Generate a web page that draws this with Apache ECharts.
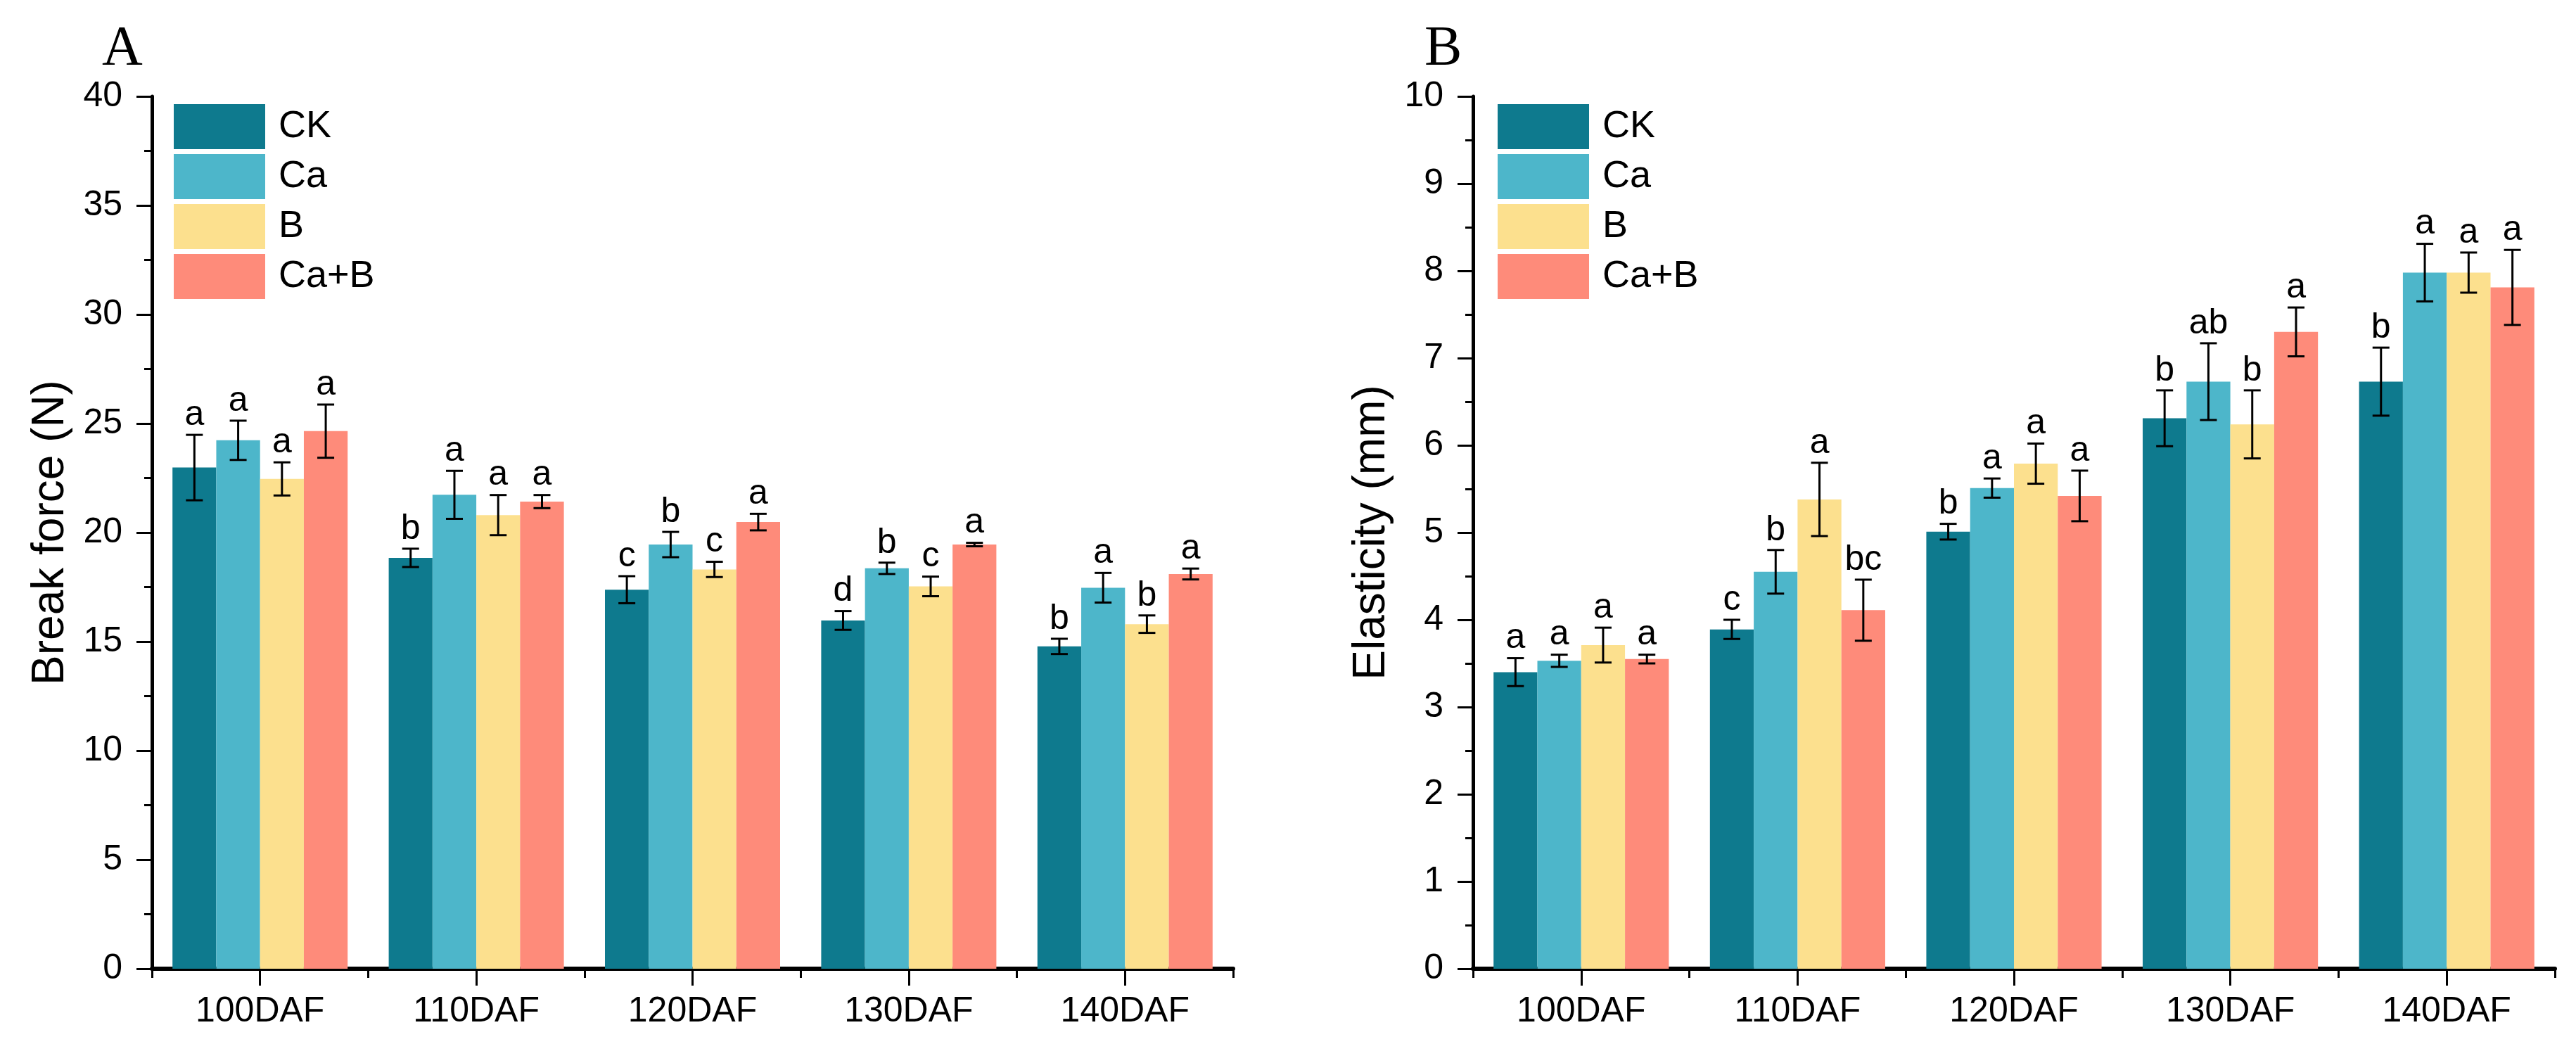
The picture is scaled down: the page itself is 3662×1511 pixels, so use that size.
<!DOCTYPE html>
<html>
<head>
<meta charset="utf-8">
<script src="https://cdn.jsdelivr.net/npm/echarts@6/dist/echarts.min.js"></script>
<style>
html,body{margin:0;padding:0;background:#fff;}
#chart{width:3662px;height:1511px;}
</style>
</head>
<body>
<div id="chart"></div>
<script>
// ---------- data ----------
const categories = ['100DAF', '110DAF', '120DAF', '130DAF', '140DAF'];
const seriesNames = ['CK', 'Ca', 'B', 'Ca+B'];

// Panel A: Break force (N)
const forceCK  = [22.98, 18.84, 17.38, 15.97, 14.78];
const forceCa  = [24.23, 21.73, 19.45, 18.36, 17.47];
const forceB   = [22.46, 20.80, 18.31, 17.53, 15.80];
const forceCaB = [24.65, 21.42, 20.48, 19.45, 18.10];
const forceCKErr  = [1.50, 0.42, 0.62, 0.43, 0.35];
const forceCaErr  = [0.90, 1.10, 0.58, 0.26, 0.68];
const forceBErr   = [0.76, 0.92, 0.35, 0.45, 0.40];
const forceCaBErr = [1.22, 0.30, 0.38, 0.08, 0.25];
const forceCKSig  = ['a', 'b', 'c', 'd', 'b'];
const forceCaSig  = ['a', 'a', 'b', 'b', 'a'];
const forceBSig   = ['a', 'a', 'c', 'c', 'b'];
const forceCaBSig = ['a', 'a', 'a', 'a', 'a'];
const forceTicks = [0, 5, 10, 15, 20, 25, 30, 35, 40];

// Panel B: Elasticity (mm)
const elasCK  = [3.40, 3.89, 5.01, 6.31, 6.73];
const elasCa  = [3.53, 4.55, 5.51, 6.73, 7.98];
const elasB   = [3.71, 5.38, 5.79, 6.24, 7.98];
const elasCaB = [3.55, 4.11, 5.42, 7.30, 7.81];
const elasCKErr  = [0.16, 0.11, 0.09, 0.32, 0.39];
const elasCaErr  = [0.07, 0.25, 0.11, 0.44, 0.33];
const elasBErr   = [0.20, 0.42, 0.23, 0.39, 0.23];
const elasCaBErr = [0.05, 0.35, 0.29, 0.28, 0.43];
const elasCKSig  = ['a', 'c', 'b', 'b', 'b'];
const elasCaSig  = ['a', 'b', 'a', 'ab', 'a'];
const elasBSig   = ['a', 'a', 'a', 'b', 'a'];
const elasCaBSig = ['a', 'bc', 'a', 'a', 'a'];
const elasTicks = [0, 1, 2, 3, 4, 5, 6, 7, 8, 9, 10];

// ---------- styling ----------
const colors = ['#0E7A8E', '#4DB6CA', '#FCE08E', '#FE8B7A'];
const FONT = 'Liberation Sans, Arial, sans-serif';
const CAT_GAP = 0.19;

const panels = [
  { values: [forceCK, forceCa, forceB, forceCaB],
    errs: [forceCKErr, forceCaErr, forceBErr, forceCaBErr],
    sigs: [forceCKSig, forceCaSig, forceBSig, forceCaBSig],
    ticks: forceTicks, name: 'Break force (N)' },
  { values: [elasCK, elasCa, elasB, elasCaB],
    errs: [elasCKErr, elasCaErr, elasBErr, elasCaBErr],
    sigs: [elasCKSig, elasCaSig, elasBSig, elasCaBSig],
    ticks: elasTicks, name: 'Elasticity (mm)' }
];

const grids = [
  { left: 216, top: 137, width: 1537, height: 1240 },
  { left: 2094, top: 137, width: 1538, height: 1240 }
];

const xAxes = [], yAxes = [], series = [];
panels.forEach((p, g) => {
  xAxes.push({
    type: 'category', gridIndex: g, position: 'bottom', data: categories, boundaryGap: true,
    axisLine: { show: true, lineStyle: { color: '#000', width: 6 } },
    axisTick: { show: true, alignWithLabel: true, length: 24, lineStyle: { color: '#000', width: 3 } },
    axisLabel: { fontSize: 50, fontFamily: FONT, color: '#000', margin: 36 },
    splitLine: { show: false }
  });
  xAxes.push({
    type: 'category', gridIndex: g, position: 'bottom', offset: 0, data: categories, boundaryGap: true,
    axisLine: { show: false },
    axisTick: { show: true, length: 13, lineStyle: { color: '#000', width: 3 } },
    axisLabel: { show: false },
    splitLine: { show: false }
  });
  const t = p.ticks;
  yAxes.push({
    type: 'value', gridIndex: g, min: t[0], max: t[t.length - 1], interval: t[1] - t[0],
    name: p.name, nameLocation: 'middle', nameGap: 112,
    nameTextStyle: { fontSize: 64, fontFamily: FONT, color: '#000' },
    axisLine: { show: true, lineStyle: { color: '#000', width: 5 } },
    axisTick: { show: true, length: 22, lineStyle: { color: '#000', width: 3 } },
    minorTick: { show: true, splitNumber: 2, length: 11, lineStyle: { color: '#000', width: 3 } },
    splitLine: { show: false },
    axisLabel: { fontSize: 50, fontFamily: FONT, color: '#000', margin: 42 }
  });
  p.values.forEach((vals, i) => {
    series.push({
      name: seriesNames[i], type: 'bar', xAxisIndex: g * 2, yAxisIndex: g,
      data: vals, barGap: '0%', barCategoryGap: (CAT_GAP * 100) + '%',
      itemStyle: { color: colors[i] }, z: 2
    });
  });
  p.values.forEach((vals, i) => {
    const errs = p.errs[i], sigs = p.sigs[i];
    series.push({
      name: 'err' + g + '_' + i, type: 'custom', xAxisIndex: g * 2, yAxisIndex: g,
      data: vals.map((v, k) => [k, v, errs[k]]),
      z: 5, silent: true,
      renderItem: function (params, api) {
        const k = api.value(0), v = api.value(1), e = api.value(2);
        const band = api.size([1, 0])[0];
        const bw = band * (1 - CAT_GAP) / 4;
        const c = api.coord([k, v]);
        const cx = c[0] + (i - 1.5) * bw;
        const yTop = api.coord([k, v + e])[1];
        const yBot = api.coord([k, v - e])[1];
        const half = 12;
        const ls = { stroke: '#000', lineWidth: 3 };
        return {
          type: 'group',
          children: [
            { type: 'line', shape: { x1: cx, y1: yTop, x2: cx, y2: yBot }, style: ls },
            { type: 'line', shape: { x1: cx - half, y1: yTop, x2: cx + half, y2: yTop }, style: ls },
            { type: 'line', shape: { x1: cx - half, y1: yBot, x2: cx + half, y2: yBot }, style: ls },
            { type: 'text', x: cx, y: yTop - 3,
              style: { text: sigs[params.dataIndex], fontSize: 50, fontFamily: FONT, fill: '#000',
                       align: 'center', verticalAlign: 'bottom' } }
          ]
        };
      }
    });
  });
});

const legendBase = {
  data: seriesNames, orient: 'vertical', icon: 'rect',
  itemWidth: 130, itemHeight: 64, itemGap: 7,
  textStyle: { fontSize: 54, fontFamily: FONT, color: '#000', padding: [0, 0, 0, 14] },
  selectedMode: false
};

const option = {
  animation: false,
  backgroundColor: '#fff',
  title: [
    { text: 'A', left: 140, top: 26, textStyle: { fontSize: 80, fontWeight: 'normal', fontFamily: 'Liberation Serif, serif', color: '#000' } },
    { text: 'B', left: 2020, top: 26, textStyle: { fontSize: 80, fontWeight: 'normal', fontFamily: 'Liberation Serif, serif', color: '#000' } }
  ],
  legend: [
    Object.assign({}, legendBase, { left: 242, top: 143 }),
    Object.assign({}, legendBase, { left: 2124, top: 143 })
  ],
  grid: grids,
  xAxis: xAxes,
  yAxis: yAxes,
  series: series
};

const chart = echarts.init(document.getElementById('chart'));
chart.setOption(option);
</script>
</body>
</html>
